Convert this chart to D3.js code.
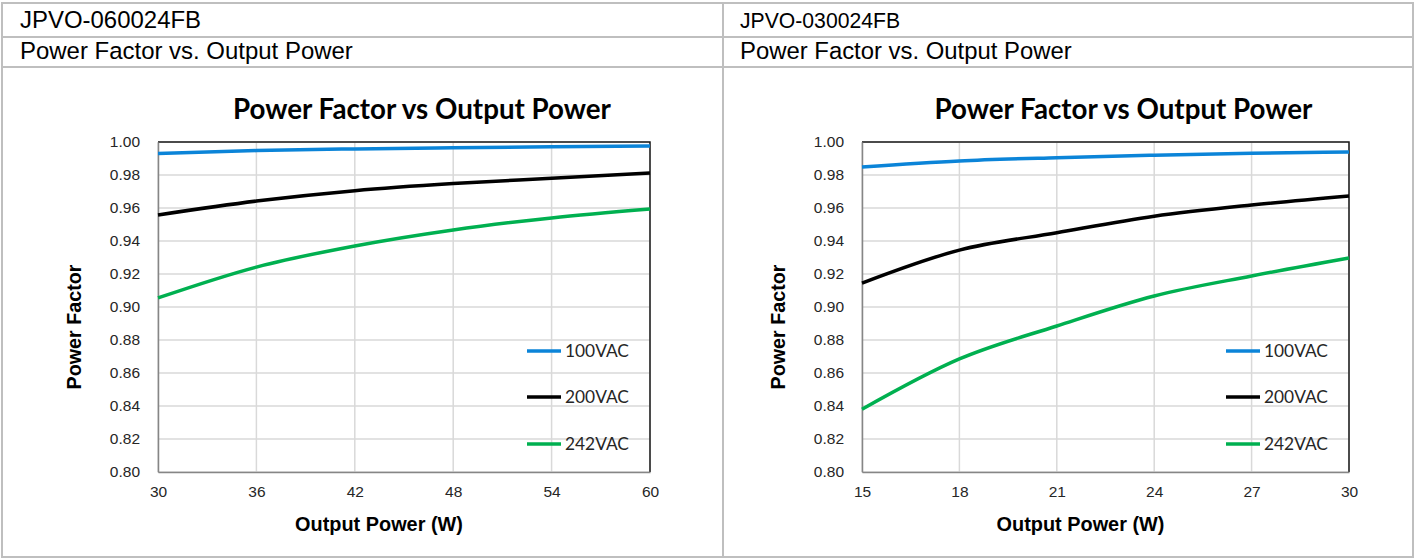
<!DOCTYPE html>
<html><head><meta charset="utf-8">
<script src="https://cdn.jsdelivr.net/npm/d3@7"></script>
<style>
html,body{margin:0;padding:0;background:#fff;}
svg{display:block;}
</style></head>
<body>
<svg id="c" width="1418" height="559"></svg>
<script>
// ---- data ----
const modelNames = ["JPVO-060024FB", "JPVO-030024FB"];
const subTitles = ["Power Factor vs. Output Power", "Power Factor vs. Output Power"];
const chartTitle = "Power Factor vs Output Power";
const xTitle = "Output Power (W)";
const yTitle = "Power Factor";
const seriesNames = ["100VAC", "200VAC", "242VAC"];
const seriesColors = ["#0b84d8", "#000000", "#00b050"];
const yTicks = [0.80, 0.82, 0.84, 0.86, 0.88, 0.90, 0.92, 0.94, 0.96, 0.98, 1.00];

const leftX = [30, 36, 42, 48, 54, 60];
const left100 = [0.993, 0.9948, 0.9958, 0.9965, 0.9971, 0.9976];
const left200 = [0.9558, 0.9642, 0.9705, 0.9748, 0.978, 0.9812];
const left242 = [0.9055, 0.9242, 0.937, 0.9467, 0.954, 0.9594];
const leftTicks = [30, 36, 42, 48, 54, 60];

const rightX = [15, 18, 21, 24, 27, 30];
const right100 = [0.9848, 0.9885, 0.9905, 0.992, 0.9932, 0.994];
const right200 = [0.9145, 0.9345, 0.945, 0.955, 0.9618, 0.9673];
const right242 = [0.838, 0.8685, 0.8885, 0.9067, 0.9188, 0.9297];
const rightTicks = [15, 18, 21, 24, 27, 30];

const panels = [
  {x: leftX, series: [left100, left200, left242], ticks: leftTicks, px: 158, pw: 492, textX: 20, headFont: "Liberation Sans"},
  {x: rightX, series: [right100, right200, right242], ticks: rightTicks, px: 862, pw: 487, textX: 740, headFont: "Liberation Sans Narrow, Liberation Sans"}
];

const svg = d3.select("#c");
const gridCol = "#d9d9d9", borderCol = "#bfbfbf", txt = "#262626";
const PT = 142, PB = 472;

function fitWidth(sel, w) {
  const n = sel.node();
  const cur = n.getComputedTextLength();
  const fs = parseFloat(sel.attr("font-size"));
  sel.attr("font-size", fs * w / cur);
}

// table
const tbl = svg.append("g");
tbl.append("rect").attr("x", 2).attr("y", 3).attr("width", 1411).attr("height", 554)
  .attr("fill", "none").attr("stroke", borderCol).attr("stroke-width", 2);
tbl.append("line").attr("x1", 723).attr("x2", 723).attr("y1", 3).attr("y2", 557).attr("stroke", borderCol).attr("stroke-width", 2);
[37, 67].forEach(y => tbl.append("line").attr("x1", 2).attr("x2", 1413).attr("y1", y).attr("y2", y).attr("stroke", borderCol).attr("stroke-width", 2));

const subW = [333, 332];
const modelW = [null, 160];

panels.forEach((p, i) => {
  const h2 = svg.append("text").attr("x", p.textX).attr("y", 59).attr("font-family", p.headFont)
    .attr("font-size", 19).attr("fill", "#000").text(subTitles[i]);
  fitWidth(h2, subW[i]);
  const h1 = svg.append("text").attr("x", p.textX).attr("y", 28).attr("font-family", p.headFont)
    .attr("font-size", h2.attr("font-size")).attr("fill", "#000").text(modelNames[i]);
  if (modelW[i]) fitWidth(h1, modelW[i]);

  const x = d3.scaleLinear().domain(d3.extent(p.ticks)).range([p.px, p.px + p.pw]);
  const y = d3.scaleLinear().domain([0.80, 1.00]).range([PB, PT]);
  const g = svg.append("g");

  // gridlines
  g.selectAll(".hg").data(yTicks).join("line")
    .attr("x1", p.px).attr("x2", p.px + p.pw).attr("y1", d => y(d)).attr("y2", d => y(d))
    .attr("stroke", gridCol).attr("stroke-width", 1.5);
  g.selectAll(".vg").data(p.ticks).join("line")
    .attr("x1", d => x(d)).attr("x2", d => x(d)).attr("y1", PT).attr("y2", PB)
    .attr("stroke", gridCol).attr("stroke-width", 1.5);

  // plot border top/right
  g.append("path").attr("d", `M${p.px},${PT}H${p.px + p.pw}V${PB}`).attr("fill", "none")
    .attr("stroke", "#1a1a1a").attr("stroke-width", 1.5);

  // axes
  const yAx = g.append("g").attr("transform", `translate(${p.px},0)`)
    .call(d3.axisLeft(y).tickValues(yTicks).tickFormat(d3.format(".2f")).tickSize(0).tickPadding(18));
  const xAx = g.append("g").attr("transform", `translate(0,${PB})`)
    .call(d3.axisBottom(x).tickValues(p.ticks).tickFormat(d3.format("d")).tickSize(0).tickPadding(14));
  [yAx, xAx].forEach(a => {
    a.select(".domain").attr("stroke", "#868686").attr("stroke-width", 1.5);
    a.selectAll("text").attr("font-family", "Liberation Sans, Arial").attr("font-size", 15.5).attr("fill", txt);
  });

  // lines
  const line = d3.line().curve(d3.curveMonotoneX).x(d => x(d[0])).y(d => y(d[1]));
  p.series.forEach((s, k) => {
    g.append("path").datum(p.x.map((v, j) => [v, s[j]])).attr("d", line)
      .attr("fill", "none").attr("stroke", seriesColors[k]).attr("stroke-width", 3.5)
      .attr("stroke-linecap", "butt");
  });

  // title
  const cx = p.px + p.pw / 2;
  const t = g.append("text").attr("x", cx + 18).attr("y", 119).attr("text-anchor", "middle")
    .attr("font-family", "Lato, Open Sans").attr("font-weight", "bold").attr("font-size", 24)
    .attr("fill", "#000").text(chartTitle);
  fitWidth(t, 378);
  const xt = g.append("text").attr("x", cx - 25).attr("y", 531).attr("text-anchor", "middle")
    .attr("font-family", "Liberation Sans, Arial").attr("font-weight", "bold").attr("font-size", 18)
    .attr("fill", "#000").text(xTitle);
  fitWidth(xt, 168);
  const yt = g.append("text").attr("transform", `translate(${p.px - 77},327) rotate(-90)`)
    .attr("text-anchor", "middle")
    .attr("font-family", "Liberation Sans, Arial").attr("font-weight", "bold").attr("font-size", 18)
    .attr("fill", "#000").text(yTitle);
  fitWidth(yt, 125);

  // legend
  const ly = [351, 397, 444];
  const lx = p.px + p.pw - 123;
  seriesNames.forEach((n, k) => {
    g.append("line").attr("x1", lx).attr("x2", lx + 34).attr("y1", ly[k]).attr("y2", ly[k])
      .attr("stroke", seriesColors[k]).attr("stroke-width", 3.5);
    const lt = g.append("text").attr("x", lx + 38).attr("y", ly[k] + 6)
      .attr("font-family", "Lato, Open Sans").attr("font-size", 16).attr("fill", txt).text(n);
    fitWidth(lt, 64);
  });
});
</script>
</body></html>
